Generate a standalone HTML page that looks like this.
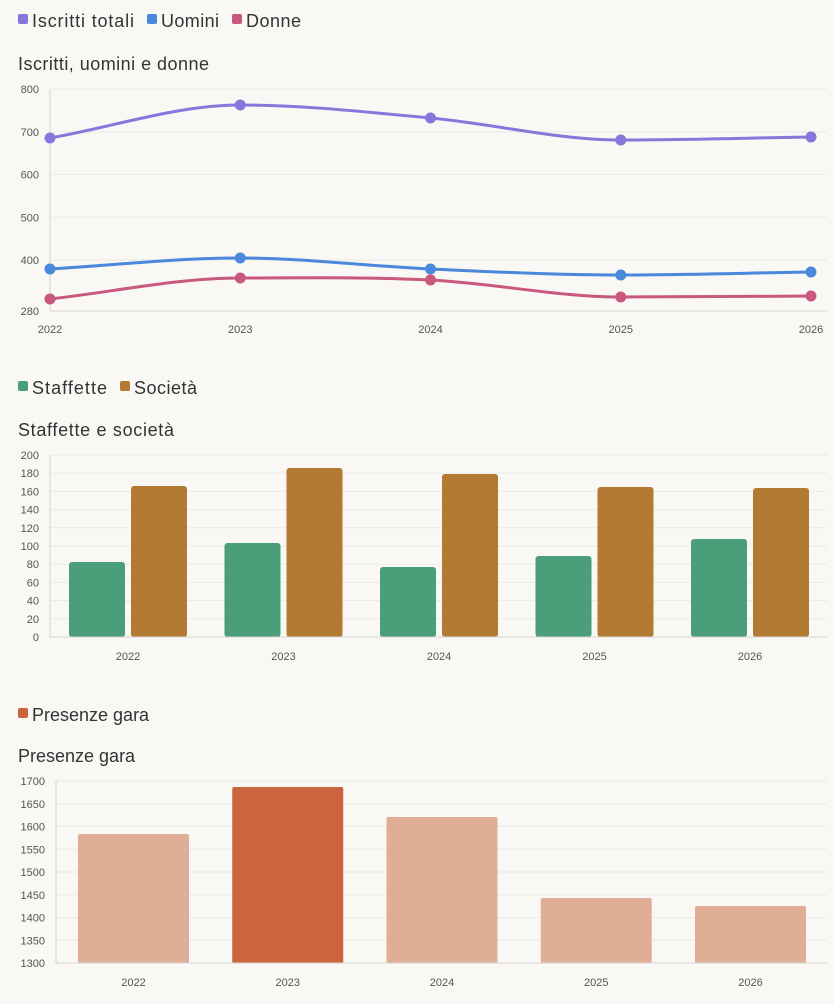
<!DOCTYPE html>
<html><head><meta charset="utf-8"><style>
html,body{margin:0;padding:0;background:#f9f8f5;}
svg{display:block;font-family:"Liberation Sans",sans-serif;}
.t{font-size:11px;fill:#555;}
.lg{font-size:18px;fill:#333;}
.gr{stroke:#ebe9e5;stroke-width:1;}
.ax{stroke:#d6d4d0;stroke-width:1;}
</style></head><body>
<svg id="s" width="834" height="1004" viewBox="0 0 834 1004">
<rect x="18" y="14" width="10" height="10" rx="2" fill="#8577dc"/><text class="lg" x="32" y="27" textLength="102" lengthAdjust="spacing">Iscritti totali</text>
<rect x="147" y="14" width="10" height="10" rx="2" fill="#4a88dc"/><text class="lg" x="161" y="27" textLength="58" lengthAdjust="spacing">Uomini</text>
<rect x="232" y="14" width="10" height="10" rx="2" fill="#c8587e"/><text class="lg" x="246" y="27" textLength="55" lengthAdjust="spacing">Donne</text>
<text class="lg" x="18" y="70" textLength="191" lengthAdjust="spacing">Iscritti, uomini e donne</text>
<g id="c1"></g>
<rect x="18" y="381" width="10" height="10" rx="2" fill="#4a9e79"/><text class="lg" x="32" y="394" textLength="75" lengthAdjust="spacing">Staffette</text>
<rect x="120" y="381" width="10" height="10" rx="2" fill="#b27a32"/><text class="lg" x="134" y="394" textLength="63" lengthAdjust="spacing">Società</text>
<text class="lg" x="18" y="436" textLength="156" lengthAdjust="spacing">Staffette e società</text>
<g id="c2"></g>
<rect x="18" y="708" width="10" height="10" rx="2" fill="#cc643f"/><text class="lg" x="32" y="721">Presenze gara</text>
<text class="lg" x="18" y="762">Presenze gara</text>
<g id="c3"></g>
</svg>
<script>
var NS="http://www.w3.org/2000/svg";
function el(p,t,a,txt){var e=document.createElementNS(NS,t);for(var k in a)e.setAttribute(k,a[k]);if(txt!=null)e.textContent=txt;p.appendChild(e);return e;}
var yrs=["2022","2023","2024","2025","2026"];
var g=document.getElementById("c1");
function y1(v){return 311.2-(v-280)*0.427;}
[800,700,600,500,400].forEach(function(v){el(g,"line",{x1:50,x2:827,y1:y1(v),y2:y1(v),"class":"gr"});});
[800,700,600,500,400,280].forEach(function(v){el(g,"text",{x:39,y:y1(v)+4,"class":"t","text-anchor":"end"},v);});
el(g,"line",{x1:50,x2:50,y1:89,y2:311,"class":"ax"});
el(g,"line",{x1:50,x2:827,y1:311,y2:311,"class":"ax"});
var xs=[50,240.25,430.5,620.75,811];
xs.forEach(function(x,i){el(g,"text",{x:x,y:333,"class":"t","text-anchor":"middle","font-size":"12"},yrs[i]);});
function mono(ys){var n=ys.length,d=[],m=[];for(var i=0;i<n-1;i++)d.push((ys[i+1]-ys[i])/(xs[i+1]-xs[i]));
m[0]=d[0];m[n-1]=d[n-2];for(i=1;i<n-1;i++){m[i]=(d[i-1]*d[i]<=0)?0:(d[i-1]+d[i])/2;}
var p="M"+xs[0]+","+ys[0];for(i=0;i<n-1;i++){var h=(xs[i+1]-xs[i])/3;p+=" C"+(xs[i]+h)+","+(ys[i]+m[i]*h)+" "+(xs[i+1]-h)+","+(ys[i+1]-m[i+1]*h)+" "+xs[i+1]+","+ys[i+1];}return p;}
[[[138,105,118,140,137],"#8577dc"],[[269,258,269,275,272],"#4a88dc"],[[299,278,280,297,296],"#c8587e"]].forEach(function(s){
el(g,"path",{d:mono(s[0]),fill:"none",stroke:s[1],"stroke-width":3});
s[0].forEach(function(y,i){el(g,"circle",{cx:xs[i],cy:y,r:5.5,fill:s[1]});});});
g=document.getElementById("c2");
function y2(v){return 637-v*0.91;}
for(var v=20;v<=200;v+=20)el(g,"line",{x1:50,x2:827,y1:y2(v),y2:y2(v),"class":"gr"});
for(v=0;v<=200;v+=20)el(g,"text",{x:39,y:y2(v)+4,"class":"t","text-anchor":"end"},v);
var gt=[562,543,567,556,539],bt=[486,468,474,487,488];
for(var i=0;i<5;i++){var x0=69+155.5*i;
el(g,"rect",{x:x0,y:gt[i],width:56,height:637-gt[i],rx:3,fill:"#4a9e79"});
el(g,"rect",{x:x0+62,y:bt[i],width:56,height:637-bt[i],rx:3,fill:"#b27a32"});
el(g,"text",{x:x0+59,y:660,"class":"t","text-anchor":"middle","font-size":"12"},yrs[i]);}
el(g,"line",{x1:50,x2:50,y1:455,y2:637,"class":"ax"});
el(g,"line",{x1:50,x2:827,y1:637,y2:637,"class":"ax"});
g=document.getElementById("c3");
function y3(v){return 963-(v-1300)*0.455;}
for(v=1350;v<=1700;v+=50)el(g,"line",{x1:56,x2:827,y1:y3(v),y2:y3(v),"class":"gr"});
for(v=1300;v<=1700;v+=50)el(g,"text",{x:45,y:y3(v)+4,"class":"t","text-anchor":"end"},v);
var pt=[834,787,817,898,906];
for(i=0;i<5;i++){var x0=78+154.25*i;
el(g,"rect",{x:x0,y:pt[i],width:111,height:963-pt[i],rx:2,fill:i==1?"#cc643f":"#e0ae97"});
el(g,"text",{x:x0+55.5,y:986,"class":"t","text-anchor":"middle","font-size":"12"},yrs[i]);}
el(g,"line",{x1:56,x2:56,y1:781,y2:963,"class":"ax"});
el(g,"line",{x1:56,x2:827,y1:963,y2:963,"class":"ax"});
</script>
</body></html>
